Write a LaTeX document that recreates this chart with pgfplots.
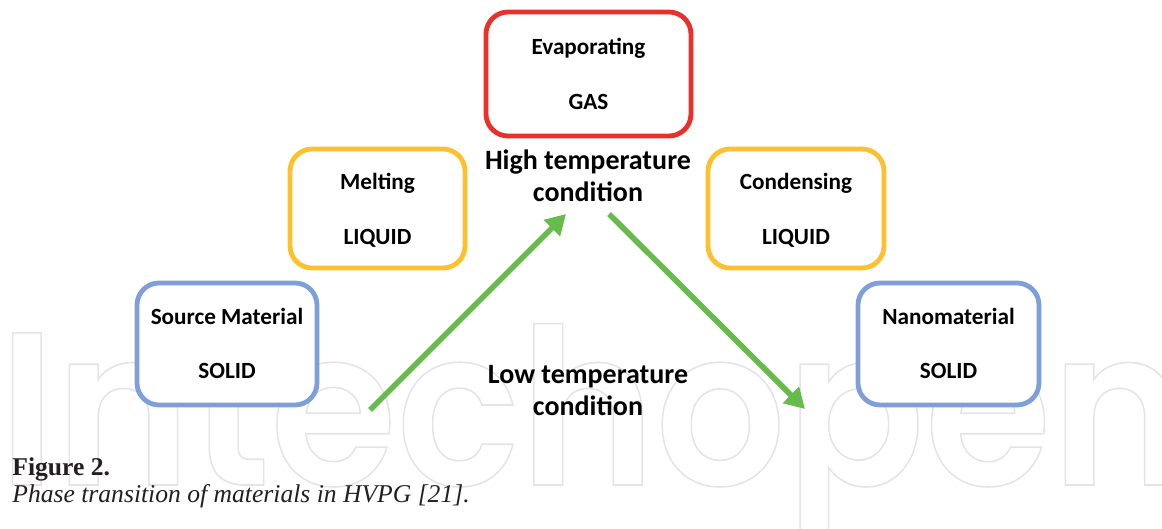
\documentclass[border=0pt]{standalone}
\usepackage{pgfplots}
\pgfplotsset{compat=1.18}
\usetikzlibrary{arrows.meta}
\usepackage{fontspec}
\setmainfont{Carlito}
\newfontfamily\capfont{Liberation Serif}
\newfontfamily\wmfont{Poppins SemiBold}
\definecolor{cred}{HTML}{E9302B}
\definecolor{corange}{HTML}{FDC02F}
\definecolor{cblue}{HTML}{7F9FD8}
\definecolor{cgreen}{HTML}{66BB4C}
\definecolor{wm}{HTML}{E4E4E4}
\definecolor{captxt}{HTML}{231F20}
\begin{document}
\begin{tikzpicture}
\begin{axis}[
  at={(0,0)}, anchor=south west,
  scale only axis, width=581pt, height=264.5pt,
  xmin=0, xmax=1162, ymin=0, ymax=529, y dir=reverse,
  hide axis, clip=false,
]
% watermark
\node[anchor=base west, inner sep=0pt, text=wm] at (axis cs:-2,485)
  {\resizebox{594pt}{\height}{\fontsize{109pt}{109pt}\wmfont\special{pdf:literal direct 1 Tr 0.8 w}Intechopen\special{pdf:literal direct 0 Tr}}};
% boxes
\tikzset{bx/.style={line width=2.4pt, rounded corners=11pt, fill=white}}
\draw[bx, draw=cred]    (axis cs:486,12)  rectangle (axis cs:691,136);
\draw[bx, draw=corange] (axis cs:290,149) rectangle (axis cs:465,268);
\draw[bx, draw=corange] (axis cs:708,149) rectangle (axis cs:884,268);
\draw[bx, draw=cblue]   (axis cs:137,283) rectangle (axis cs:317,405);
\draw[bx, draw=cblue]   (axis cs:858,283) rectangle (axis cs:1039,405);
% box texts
\tikzset{lb/.style={anchor=base, inner sep=0pt, font=\fontsize{11.6pt}{13pt}\selectfont\bfseries}}
\node[lb] at (axis cs:588.5,55) {Evaporating};
\node[lb] at (axis cs:588.5,110) {GAS};
\node[lb] at (axis cs:377.5,190) {Melting};
\node[lb] at (axis cs:377.5,245) {LIQUID};
\node[lb] at (axis cs:796,190) {Condensing};
\node[lb] at (axis cs:796,245) {LIQUID};
\node[lb] at (axis cs:227,324) {Source Material};
\node[lb] at (axis cs:227,379) {SOLID};
\node[lb] at (axis cs:948.5,324) {Nanomaterial};
\node[lb] at (axis cs:948.5,379) {SOLID};
\tikzset{cd/.style={anchor=base, inner sep=0pt, font=\fontsize{14pt}{16pt}\selectfont\bfseries}}
\node[cd] at (axis cs:588,170) {High temperature};
\node[cd] at (axis cs:588,202) {condition};
\node[cd] at (axis cs:588,383) {Low temperature};
\node[cd] at (axis cs:588,415) {condition};
% arrows
\addplot[cgreen, line width=2.8pt, -{Triangle[length=10pt,width=11pt]}] coordinates {(370,410) (566,214)};
\addplot[cgreen, line width=2.8pt, -{Triangle[length=10pt,width=11pt]}] coordinates {(609,214) (805,409)};
% caption
\node[anchor=base west, inner sep=0pt, text=captxt, font=\capfont\fontsize{12.8pt}{14pt}\selectfont\bfseries] at (axis cs:12,475) {Figure 2.};
\node[anchor=base west, inner sep=0pt, text=captxt, font=\capfont\fontsize{12.8pt}{14pt}\selectfont\itshape] at (axis cs:12,502) {Phase transition of materials in HVPG [21].};
\end{axis}
\pgfresetboundingbox
\path[use as bounding box] (0,0) rectangle (581pt,264.5pt);
\end{tikzpicture}
\end{document}
